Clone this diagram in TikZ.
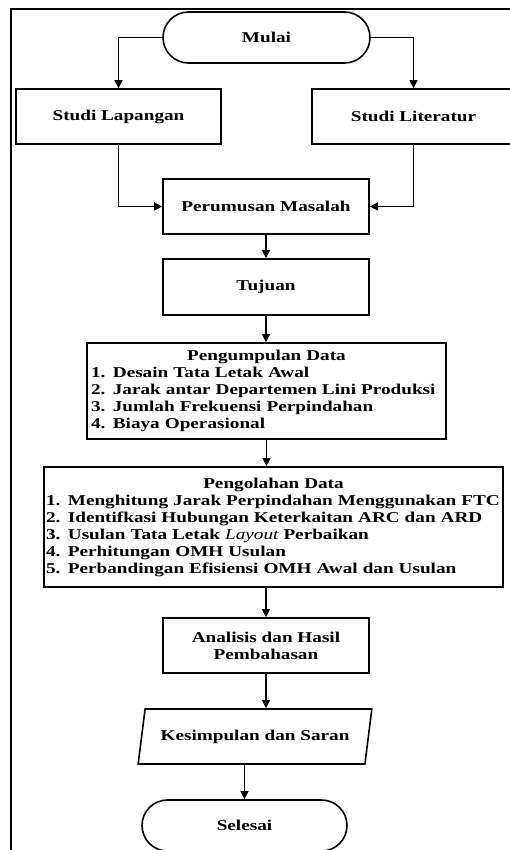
\documentclass[tikz,border=0pt]{standalone}
\usepackage{fontspec}
\setmainfont{Liberation Serif}[FakeStretch=1.28]
\usetikzlibrary{shapes.misc,shapes.geometric,arrows.meta}
\newcommand\ttlline[1]{\makebox[\hsize][c]{#1}}
\begin{document}
\begin{tikzpicture}[x=1pt,y=-1pt,
  font=\fontsize{15}{17}\selectfont\bfseries,
  box/.style={draw, line width=1.6pt, rectangle, inner sep=0pt},
  term/.style={draw, line width=1.6pt, rounded rectangle, inner sep=0pt, minimum width=207pt, minimum height=51pt},
  arr/.style={line width=1.2pt, -{Triangle[length=8pt,width=8pt]}},
]
\useasboundingbox (0,0) rectangle (510,850);
\clip (0,0) rectangle (510,850);
\draw[line width=1.8pt] (11,856) -- (11,9) -- (516,9);

\node[term] (mulai) at (266.5,37.5) {Mulai};
\node[box, minimum width=205pt, minimum height=55pt] (lap) at (118.5,116.5) {Studi Lapangan};
\node[box, minimum width=203pt, minimum height=55pt] (lit) at (413.5,116.5) {Studi Literatur};
\node[box, minimum width=206pt, minimum height=55pt] (rum) at (266,206.5) {Perumusan Masalah};
\node[box, minimum width=206pt, minimum height=56pt] (tuj) at (266,287) {Tujuan};
\node[box, minimum width=359pt, minimum height=96pt, text width=351pt, align=left] (pgm) at (266.5,391) {%
\ttlline{Pengumpulan Data}\\
1. Desain Tata Letak Awal\\
2. Jarak antar Departemen Lini Produksi\\
3. Jumlah Frekuensi Perpindahan\\
4. Biaya Operasional};
\node[box, minimum width=459pt, minimum height=120pt, text width=455pt, align=left] (olh) at (273.5,527) {%
\ttlline{Pengolahan Data}\\
1. Menghitung Jarak Perpindahan Menggunakan FTC\\
2. Identifkasi Hubungan Keterkaitan ARC dan ARD\\
3. Usulan Tata Letak {\mdseries\itshape Layout} Perbaikan\\
4. Perhitungan OMH Usulan\\
5. Perbandingan Efisiensi OMH Awal dan Usulan};
\node[box, minimum width=206pt, minimum height=55pt, align=center] (ana) at (266,645.5) {Analisis dan Hasil\\Pembahasan};
\node[draw, line width=1.6pt, trapezium, trapezium left angle=66.4, trapezium right angle=113.6,
  trapezium stretches=true, minimum width=234pt, minimum height=55pt, inner sep=0pt] (kes) at (255,736.5) {Kesimpulan dan Saran};
\node[term, minimum width=205pt] (sel) at (244.5,825.5) {Selesai};

\draw[arr] (mulai.west) -| (lap.north);
\draw[arr] (mulai.east) -| (lit.north);
\draw[arr] (lap.south) |- (rum.west);
\draw[arr] (lit.south) |- (rum.east);
\draw[arr] (rum.south) -- (tuj.north);
\draw[arr] (tuj.south) -- (tuj.south |- pgm.north);
\draw[arr] (pgm.south) -- (pgm.south |- olh.north);
\draw[arr] (ana.north |- olh.south) -- (ana.north);
\draw[arr] (ana.south) -- (ana.south |- kes.north);
\draw[arr] (kes.south -| sel.north) -- (sel.north);
\end{tikzpicture}
\end{document}
